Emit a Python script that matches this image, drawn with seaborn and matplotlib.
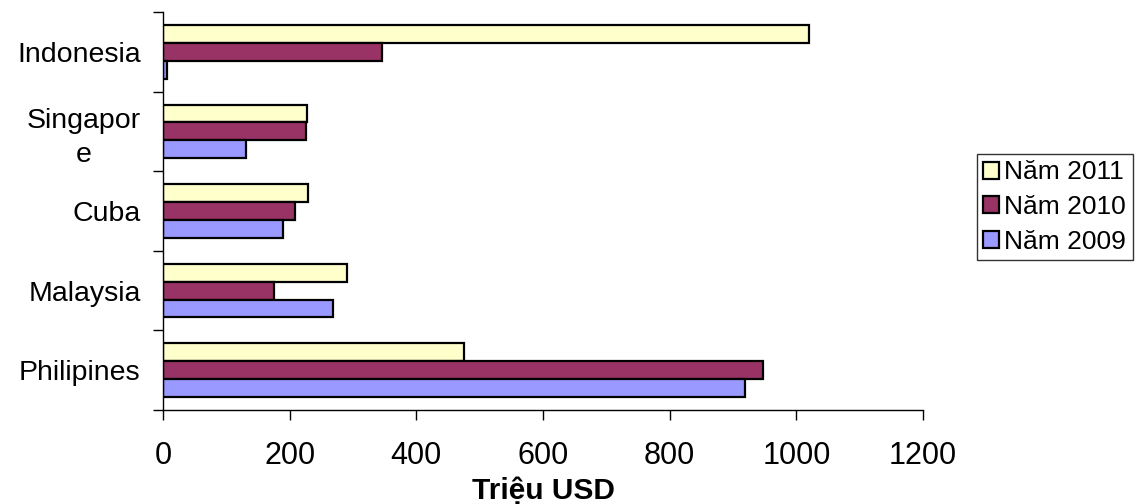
import matplotlib
matplotlib.use("Agg")
import matplotlib.pyplot as plt
from matplotlib.ticker import FixedLocator
import seaborn as sns
import pandas as pd

# Export values by market (million USD)
countries = ["Indonesia", "Singapore", "Cuba", "Malaysia", "Philipines"]
tick_labels = ["Indonesia", "Singapor\ne", "Cuba", "Malaysia", "Philipines"]
years = ["Năm 2011", "Năm 2010", "Năm 2009"]
v2011 = [1020, 228, 229, 290, 476]
v2010 = [346, 226, 208, 176, 948]
v2009 = [6, 131, 189, 269, 919]
colors = ["#FFFFCC", "#993366", "#9999FF"]
x_ticks = [0, 200, 400, 600, 800, 1000, 1200]

df = pd.DataFrame({
    "country": countries * 3,
    "year": [years[0]] * 5 + [years[1]] * 5 + [years[2]] * 5,
    "value": v2011 + v2010 + v2009,
})

sns.set_style("white")
plt.rcParams["font.family"] = ["Liberation Sans", "DejaVu Sans"]
plt.rcParams["text.color"] = "black"
plt.rcParams["axes.labelcolor"] = "black"
plt.rcParams["xtick.color"] = "black"
plt.rcParams["ytick.color"] = "black"

fig = plt.figure(figsize=(11.38, 5.04), dpi=100)
ax = fig.add_axes([0.1432, 0.1865, 0.8111 - 0.1432, 0.9762 - 0.1865])

sns.barplot(data=df, y="country", x="value", hue="year", order=countries,
            hue_order=years, palette=colors, orient="h", width=0.675,
            edgecolor="black", linewidth=1.6, saturation=1, ax=ax,
            errorbar=None)

ax.set_xlim(0, 1200)
ax.set_ylim(4.5, -0.5)
ax.set_xticks(x_ticks)
ax.set_xticklabels([str(t) for t in x_ticks], fontsize=22)
ax.set_yticks(range(len(countries)))
ax.set_yticklabels(tick_labels, fontsize=20.5, multialignment="center",
                   linespacing=1.4)
ax.yaxis.set_minor_locator(FixedLocator([i - 0.5 for i in range(len(countries) + 1)]))
ax.tick_params(axis="y", which="major", length=0, pad=16)
ax.tick_params(axis="y", which="minor", length=7, width=1, color="black", direction="out", left=True)
ax.tick_params(axis="x", length=7, width=1, color="black", direction="out", bottom=True, pad=15)

for side in ["top", "right"]:
    ax.spines[side].set_visible(False)
for side in ["left", "bottom"]:
    ax.spines[side].set_color("black")
    ax.spines[side].set_linewidth(1)

ax.set_ylabel("")
ax.set_xlabel("Triệu USD", fontsize=21.5, fontweight="bold", labelpad=4.5)

handles, labels = ax.get_legend_handles_labels()
leg = ax.legend(handles, labels, loc="center left", bbox_to_anchor=(1.071, 0.51),
                fontsize=19, frameon=True, fancybox=False, edgecolor="black",
                handlelength=0.6, handleheight=0.6, handletextpad=0.2,
                borderpad=0.24, labelspacing=0.4, borderaxespad=0)
leg.get_frame().set_linewidth(1)

fig.savefig("out.png", dpi=100)
